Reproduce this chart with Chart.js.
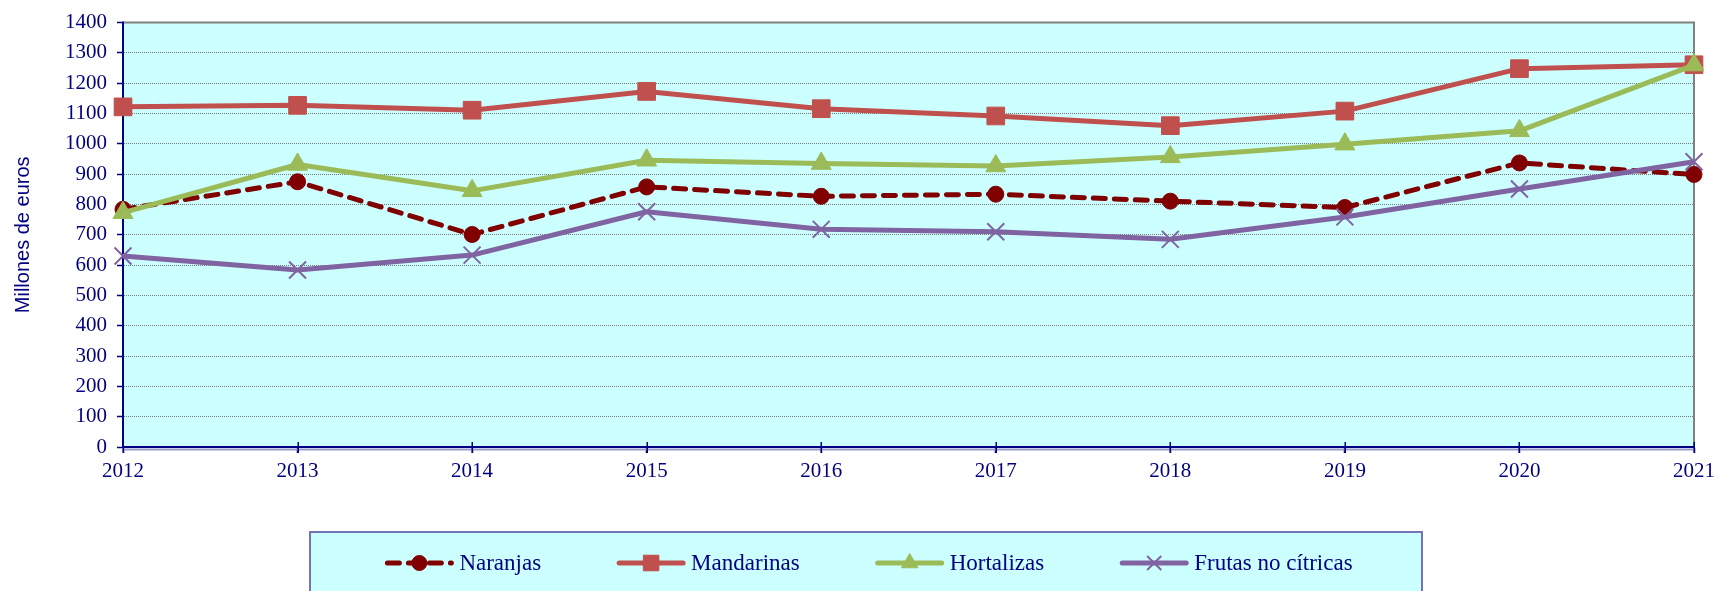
<!DOCTYPE html>
<html>
<head>
<meta charset="utf-8">
<script src="https://cdn.jsdelivr.net/npm/chart.js@4.4.1/dist/chart.umd.min.js"></script>
<style>
  html, body { margin: 0; padding: 0; background: #ffffff; }
  #wrap { width: 1721px; height: 591px; position: relative; }
  canvas { display: block; }
</style>
</head>
<body>
<div id="wrap"><canvas id="c" width="1721" height="591"></canvas></div>
<script>
// ---- data ----
const years = ['2012', '2013', '2014', '2015', '2016', '2017', '2018', '2019', '2020', '2021'];
const naranjas   = [784, 875, 701, 858, 827, 834, 811, 790, 937, 899];
const mandarinas = [1122, 1127, 1111, 1173, 1116, 1092, 1060, 1108, 1248, 1261];
const hortalizas = [773, 932, 845, 946, 935, 927, 957, 999, 1043, 1260];
const frutas     = [630, 584, 633, 776, 718, 710, 685, 759, 851, 941];
const seriesNames = ['Naranjas', 'Mandarinas', 'Hortalizas', 'Frutas no cítricas'];
const yAxisTitle = 'Millones de euros';
const yMin = 0, yMax = 1400, yStep = 100;

// ---- styles ----
const NAVY = '#000080';
const SERIF = "'Liberation Serif', 'Times New Roman', serif";
const SANS = "'Liberation Sans', Arial, sans-serif";
const PLOT_BG = '#CCFFFF';

const dashN = [12, 9];

const datasets = [
  { label: seriesNames[0], data: naranjas, borderColor: '#800000', backgroundColor: '#800000',
    borderWidth: 5, borderDash: dashN, borderCapStyle: 'round', pointStyle: 'circle', pointRadius: 8,
    pointBackgroundColor: '#800000', pointBorderColor: '#800000', pointBorderWidth: 1, order: 4 },
  { label: seriesNames[1], data: mandarinas, borderColor: '#C0504D', backgroundColor: '#C0504D',
    borderWidth: 5, pointStyle: 'rect', pointRadius: 12.5,
    pointBackgroundColor: '#C0504D', pointBorderColor: '#C0504D', pointBorderWidth: 1, order: 3 },
  { label: seriesNames[2], data: hortalizas, borderColor: '#9BBB59', backgroundColor: '#9BBB59',
    borderWidth: 5, pointStyle: 'triangle', pointRadius: 11.5,
    pointBackgroundColor: '#9BBB59', pointBorderColor: '#9BBB59', pointBorderWidth: 1, order: 2 },
  { label: seriesNames[3], data: frutas, borderColor: '#8064A2', backgroundColor: '#8064A2',
    borderWidth: 5, pointStyle: 'crossRot', pointRadius: 12,
    pointBackgroundColor: '#8064A2', pointBorderColor: '#8064A2', pointBorderWidth: 2, order: 1 }
];

function drawMarker(ctx, style, r, x, y, color, bw) {
  ctx.save();
  ctx.fillStyle = color; ctx.strokeStyle = color; ctx.lineWidth = bw; ctx.setLineDash([]);
  ctx.beginPath();
  if (style === 'circle') {
    ctx.arc(x, y, r, 0, Math.PI * 2); ctx.fill(); ctx.stroke();
  } else if (style === 'rect') {
    const s = Math.SQRT1_2 * r; ctx.rect(x - s, y - s, 2 * s, 2 * s); ctx.fill(); ctx.stroke();
  } else if (style === 'triangle') {
    ctx.moveTo(x, y - r); ctx.lineTo(x + 0.866 * r, y + 0.5 * r); ctx.lineTo(x - 0.866 * r, y + 0.5 * r);
    ctx.closePath(); ctx.fill(); ctx.stroke();
  } else if (style === 'crossRot') {
    const s = Math.SQRT1_2 * r;
    ctx.moveTo(x - s, y - s); ctx.lineTo(x + s, y + s); ctx.moveTo(x + s, y - s); ctx.lineTo(x - s, y + s); ctx.stroke();
  }
  ctx.restore();
}

const framePlugin = {
  id: 'frame',
  beforeDraw(chart) {
    const { ctx, chartArea: a } = chart;
    ctx.save();
    ctx.fillStyle = PLOT_BG;
    ctx.fillRect(a.left, a.top, a.right - a.left, a.bottom - a.top);
    ctx.restore();
  },
  beforeDatasetsDraw(chart) {
    const { ctx, chartArea: a } = chart;
    ctx.save();
    ctx.strokeStyle = '#808080';
    ctx.lineWidth = 2;
    ctx.beginPath();
    ctx.moveTo(a.left, a.top); ctx.lineTo(a.right, a.top); ctx.lineTo(a.right, a.bottom);
    ctx.stroke();
    // shadow under x axis
    ctx.strokeStyle = '#9a9acb';
    ctx.lineWidth = 2;
    ctx.beginPath(); ctx.moveTo(a.left, a.bottom + 2.5); ctx.lineTo(a.right + 1, a.bottom + 2.5); ctx.stroke();
    // redraw axis lines
    ctx.strokeStyle = NAVY; ctx.lineWidth = 2;
    ctx.beginPath(); ctx.moveTo(a.left, a.top - 1); ctx.lineTo(a.left, a.bottom); ctx.stroke();
    ctx.beginPath(); ctx.moveTo(a.left, a.bottom); ctx.lineTo(a.right, a.bottom); ctx.stroke();
    // x tick marks crossing the axis
    const xs = chart.scales.x;
    ctx.lineWidth = 1.5;
    for (let i = 0; i < xs.ticks.length; i++) {
      const px = Math.round(xs.getPixelForTick(i)) + 0.25;
      ctx.beginPath(); ctx.moveTo(px, a.bottom - 5); ctx.lineTo(px, a.bottom + 6); ctx.stroke();
    }
    ctx.restore();
  },
  afterDraw(chart) {
    const ctx = chart.ctx;
    const box = { left: 310, right: 1422, top: 532, bottom: 600 };
    ctx.save();
    ctx.fillStyle = PLOT_BG;
    ctx.fillRect(box.left, box.top, box.right - box.left, box.bottom - box.top);
    ctx.strokeStyle = '#7373b8';
    ctx.lineWidth = 2;
    ctx.strokeRect(box.left, box.top, box.right - box.left, box.bottom - box.top);
    ctx.font = '23px ' + SERIF;
    ctx.textBaseline = 'middle';
    const lineLen = 68, gapText = 6, spacing = 76;
    const ds = chart.data.datasets;
    const widths = ds.map(d => lineLen + gapText + ctx.measureText(d.label).width);
    const total = widths.reduce((s, w) => s + w, 0) + spacing * (ds.length - 1);
    let x = (box.left + box.right) / 2 - total / 2 + 3;
    const y = 563;
    ds.forEach((d, i) => {
      ctx.save();
      ctx.strokeStyle = d.borderColor;
      ctx.lineWidth = 5;
      ctx.lineCap = 'round';
      ctx.setLineDash(d.borderDash || []);
      ctx.beginPath(); ctx.moveTo(x + 2, y); ctx.lineTo(x + lineLen - 2, y); ctx.stroke();
      ctx.restore();
      const r = d.pointStyle === 'circle' ? 7.5 : d.pointStyle === 'rect' ? 11 : d.pointStyle === 'triangle' ? 9.5 : 10;
      drawMarker(ctx, d.pointStyle, r, x + lineLen / 2, y, d.pointBackgroundColor, d.pointBorderWidth);
      ctx.fillStyle = NAVY;
      ctx.textAlign = 'left';
      ctx.fillText(d.label, x + lineLen + gapText, y + 1);
      x += widths[i] + spacing;
    });
    ctx.restore();
  }
};

new Chart(document.getElementById('c'), {
  type: 'line',
  data: { labels: years, datasets: datasets },
  options: {
    responsive: false,
    animation: false,
    events: [],
    devicePixelRatio: 1,
    layout: { padding: { top: 22, right: 23, bottom: 0, left: 0 } },
    elements: { line: { tension: 0, fill: false, borderJoinStyle: 'round' } },
    plugins: { legend: { display: false }, tooltip: { enabled: false } },
    scales: {
      x: {
        type: 'category',
        offset: false,
        grid: { display: true, drawOnChartArea: false, drawTicks: true, tickLength: 6, tickColor: NAVY, tickWidth: 1.5 },
        border: { display: true, color: NAVY, width: 2 },
        ticks: { color: NAVY, font: { family: SERIF, size: 21 }, padding: 6, maxRotation: 0, autoSkip: false },
        afterFit(scale) { scale.height = 144; }
      },
      y: {
        min: yMin, max: yMax,
        grid: { color: '#7a7a7a', lineWidth: 1, drawTicks: true, tickLength: 6, tickColor: NAVY, tickWidth: 1.5, tickBorderDash: [] },
        border: { display: true, color: NAVY, width: 2, dash: [1, 1] },
        ticks: { stepSize: yStep, color: NAVY, font: { family: SERIF, size: 21 }, padding: 10,
                 callback: (v) => String(v) },
        title: { display: true, text: yAxisTitle, color: NAVY, font: { family: SANS, size: 20 }, padding: { top: 11, bottom: 0 } },
        afterFit(scale) { scale.width = 123; }
      }
    }
  },
  plugins: [framePlugin]
});
</script>
</body>
</html>
